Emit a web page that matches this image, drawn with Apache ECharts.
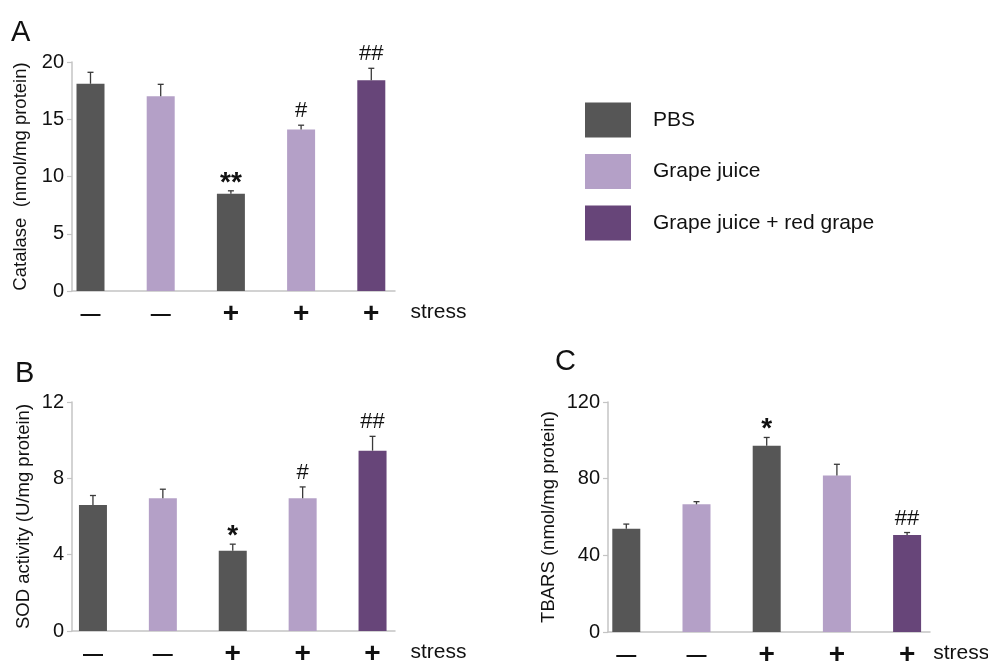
<!DOCTYPE html>
<html><head><meta charset="utf-8">
<script src="https://cdn.jsdelivr.net/npm/echarts@6/dist/echarts.min.js"></script>
<style>html,body{margin:0;padding:0;background:#fff}#c{width:988px;height:664px}</style>
</head><body><div id="c"></div>
<script>
// ---- data ----
const categories = ['g1', 'g2', 'g3', 'g4', 'g5'];
const groupOfBar = ['PBS', 'Grape juice', 'PBS', 'Grape juice', 'Grape juice + red grape'];
const legendNames = ['PBS', 'Grape juice', 'Grape juice + red grape'];
const stressLabels = ['—', '—', '+', '+', '+'];

const catalaseMean = [18.1, 17.0, 8.5, 14.1, 18.4];
const catalaseErr  = [1.0, 1.05, 0.25, 0.38, 1.05];
const catalaseSig  = ['', '', '**', '#', '##'];

const sodMean = [6.6, 6.95, 4.2, 6.95, 9.45];
const sodErr  = [0.5, 0.48, 0.35, 0.6, 0.75];
const sodSig  = ['', '', '*', '#', '##'];

const tbarsMean = [53.9, 66.6, 97.2, 81.7, 50.6];
const tbarsErr  = [2.4, 1.4, 4.3, 5.8, 1.3];
const tbarsSig  = ['', '', '*', '', '##'];

const catalaseTicks = {min: 0, max: 20, interval: 5};
const sodTicks = {min: 0, max: 12, interval: 4};
const tbarsTicks = {min: 0, max: 120, interval: 40};

// ---- styles ----
const FONT = 'Liberation Sans, Arial, sans-serif';
const colors = {'PBS': '#565656', 'Grape juice': '#b4a0c7', 'Grape juice + red grape': '#674579'};
const axisGray = '#c4c4c4';

const chart = echarts.init(document.getElementById('c'));

const panels = [
  {mean: catalaseMean, err: catalaseErr, sig: catalaseSig, ticks: catalaseTicks,
   name: 'Catalase  (nmol/mg protein)', nameGap: 42, stressGap: 4,
   bars: {left: 55.4, width: 351, top: 62, height: 229},
   axes: {left: 72, width: 323, top: 62, height: 229}},
  {mean: sodMean, err: sodErr, sig: sodSig, ticks: sodTicks,
   name: 'SOD activity (U/mg protein)', nameGap: 39, stressGap: 3,
   bars: {left: 58, width: 349.5, top: 402, height: 229},
   axes: {left: 72, width: 323, top: 402, height: 229}},
  {mean: tbarsMean, err: tbarsErr, sig: tbarsSig, ticks: tbarsTicks,
   name: 'TBARS (nmol/mg protein)', nameGap: 50, stressGap: -9,
   bars: {left: 591.2, width: 351, top: 402, height: 230},
   axes: {left: 608, width: 322, top: 402, height: 230}}
];

const grid = [], xAxis = [], yAxis = [], series = [];

function errRender(params, api) {
  const x = api.value(0), m = api.value(1), e = api.value(2);
  const sig = api.value(3);
  const p0 = api.coord([x, m]);
  const p1 = api.coord([x, m + e]);
  const cap = 3;
  const children = [
    {type: 'line', shape: {x1: p0[0], y1: p0[1], x2: p1[0], y2: p1[1]}, style: {stroke: '#3a3a3a', lineWidth: 1.3}},
    {type: 'line', shape: {x1: p1[0] - cap, y1: p1[1], x2: p1[0] + cap, y2: p1[1]}, style: {stroke: '#3a3a3a', lineWidth: 1.3}}
  ];
  if (sig) {
    const isStar = sig.indexOf('*') >= 0;
    const gap = isStar ? 8 : 14;
    children.push({type: 'text', style: {
      text: sig, x: p1[0], y: p1[1] - gap,
      align: 'center', verticalAlign: 'middle',
      textAlign: 'center', textVerticalAlign: 'middle',
      font: (isStar ? 'bold 28px ' : '22px ') + FONT, fill: '#111'
    }});
  }
  return {type: 'group', children};
}

panels.forEach((p, k) => {
  const gb = 2 * k, ga = 2 * k + 1;
  grid.push(Object.assign({}, p.bars, {containLabel: false, outerBoundsMode: 'none'}));
  grid.push(Object.assign({}, p.axes, {containLabel: false, outerBoundsMode: 'none'}));
  yAxis.push({type: 'value', gridIndex: gb, min: p.ticks.min, max: p.ticks.max, interval: p.ticks.interval, show: false});
  yAxis.push({
    type: 'value', gridIndex: ga, min: p.ticks.min, max: p.ticks.max, interval: p.ticks.interval,
    axisLine: {show: true, lineStyle: {color: axisGray, width: 1.5}},
    axisTick: {show: true, length: 5, lineStyle: {color: axisGray, width: 1.2}},
    axisLabel: {fontSize: 20, fontFamily: FONT, color: '#111', margin: 8},
    splitLine: {show: false},
    name: p.name, nameLocation: 'middle', nameGap: p.nameGap,
    nameTextStyle: {fontSize: 18.5, fontFamily: FONT, color: '#111'}
  });
});
// x axes: 0-2 bars grids (labels), 3-5 axes grids (lines), 6-8 'stress' names
panels.forEach((p, k) => {
  xAxis.push({
    type: 'category', gridIndex: 2 * k, data: categories, position: 'bottom',
    axisLine: {show: false}, axisTick: {show: false}, splitLine: {show: false},
    axisLabel: {
      margin: 9, interval: 0,
      formatter: (v, i) => stressLabels[i] === '+' ? '{p|+}' : '{m|—}',
      rich: {
        p: {fontSize: 28, fontWeight: 'bold', fontFamily: FONT, color: '#111', lineHeight: 28},
        m: {fontSize: 20, fontWeight: 'bold', fontFamily: FONT, color: '#111', lineHeight: 28}
      }
    }
  });
});
panels.forEach((p, k) => {
  xAxis.push({
    type: 'value', gridIndex: 2 * k + 1, min: 0, max: 1, position: 'bottom',
    axisLine: {show: true, lineStyle: {color: axisGray, width: 1.5}},
    axisTick: {show: false}, axisLabel: {show: false}, splitLine: {show: false}
  });
});
panels.forEach((p, k) => {
  xAxis.push({
    type: 'category', gridIndex: 2 * k, data: categories, position: 'bottom', offset: 21,
    axisLine: {show: false}, axisTick: {show: false}, axisLabel: {show: false}, splitLine: {show: false},
    name: 'stress', nameLocation: 'end', nameGap: p.stressGap,
    nameTextStyle: {fontSize: 21, fontFamily: FONT, color: '#111'}
  });
});
panels.forEach((p, k) => {
  legendNames.forEach(nm => {
    series.push({
      type: 'bar', name: nm, xAxisIndex: k, yAxisIndex: 2 * k,
      barWidth: 28, barGap: '-100%',
      itemStyle: {color: colors[nm]},
      data: p.mean.map((v, i) => groupOfBar[i] === nm ? v : '-'),
      silent: true
    });
  });
  series.push({
    type: 'custom', xAxisIndex: k, yAxisIndex: 2 * k,
    renderItem: errRender, silent: true, z: 5,
    encode: {x: 0, y: 1},
    data: p.mean.map((v, i) => [i, v, p.err[i], p.sig[i]])
  });
});

const titleStyle = {fontSize: 29, fontWeight: 'normal', fontFamily: FONT, color: '#111'};
chart.setOption({
  animation: false,
  backgroundColor: '#fff',
  title: [
    {text: 'A', left: 11, top: 18, padding: 0, textStyle: titleStyle},
    {text: 'B', left: 15, top: 359, padding: 0, textStyle: titleStyle},
    {text: 'C', left: 555, top: 347, padding: 0, textStyle: titleStyle}
  ],
  legend: {
    data: legendNames, orient: 'vertical', left: 585, top: 102.5, padding: 0,
    itemWidth: 46, itemHeight: 35, itemGap: 16.5, icon: 'rect', selectedMode: false,
    textStyle: {fontSize: 21, fontFamily: FONT, color: '#111', padding: [0, 0, 0, 17]}
  },
  grid, xAxis, yAxis, series
});
</script></body></html>
